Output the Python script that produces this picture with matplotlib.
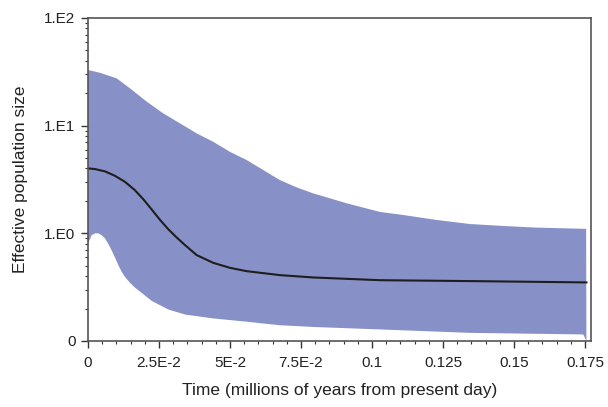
import numpy as np
import matplotlib.pyplot as plt
from matplotlib.ticker import FixedLocator, FixedFormatter, LogLocator, MultipleLocator, NullFormatter

plt.rcParams['font.family'] = ['Liberation Sans', 'DejaVu Sans']

# time in millions of years before present, effective population size
# upper 95% HPD
t_upper = [0.0, 0.0042, 0.0101, 0.0148, 0.0207, 0.0265, 0.0324, 0.0383, 0.0441, 0.05,
           0.0559, 0.0676, 0.0735, 0.0793, 0.0911, 0.1028, 0.111, 0.1228, 0.1345, 0.1462,
           0.158, 0.1754]
upper = [32.9, 31.0, 27.5, 22.2, 16.7, 13.0, 10.5, 8.47, 7.08, 5.71,
         4.79, 3.12, 2.67, 2.35, 1.90, 1.58, 1.48, 1.33, 1.22, 1.17,
         1.13, 1.10]
# median
t_median = [0.0, 0.0025, 0.006, 0.0095, 0.013, 0.0165, 0.0195, 0.0224, 0.0254, 0.0283,
            0.0312, 0.0342, 0.0383, 0.0441, 0.05, 0.0559, 0.0676, 0.0793, 0.1028, 0.1345,
            0.1755]
median = [4.01, 3.95, 3.76, 3.42, 3.01, 2.52, 2.07, 1.67, 1.33, 1.09,
          0.916, 0.776, 0.627, 0.532, 0.478, 0.445, 0.409, 0.389, 0.367, 0.360,
          0.350]
# lower 95% HPD
t_lower = [0.0, 0.0013, 0.0025, 0.0036, 0.0048, 0.006, 0.0072, 0.0083, 0.0095, 0.0107,
           0.0119, 0.013, 0.0148, 0.0165, 0.0195, 0.0224, 0.0283, 0.0342, 0.0441, 0.0559,
           0.0676, 0.0793, 0.1028, 0.1345, 0.1744, 0.1755]
lower = [0.80, 0.962, 1.0, 1.0, 0.962, 0.897, 0.794, 0.698, 0.597, 0.506,
         0.438, 0.394, 0.347, 0.314, 0.272, 0.236, 0.196, 0.176, 0.162, 0.151,
         0.140, 0.135, 0.128, 0.119, 0.115, 0.1]

xticks = [0, 0.025, 0.05, 0.075, 0.1, 0.125, 0.15, 0.175]
xticklabels = ["0", "2.5E-2", "5E-2", "7.5E-2", "0.1", "0.125", "0.15", "0.175"]
yticks = [0.1, 1, 10, 100]
yticklabels = ["0", "1.E0", "1.E1", "1.E2"]

fig = plt.figure(figsize=(6.08, 4.07), dpi=100)
ax = fig.add_axes([0.1447, 0.1622, 0.8268, 0.7936])

# HPD band as one polygon: upper edge forward, lower edge back
ax.fill(np.r_[t_upper, t_lower[::-1]], np.r_[upper, lower[::-1]],
        color='#8891c7', linewidth=0)
ax.plot(t_median, median, color='#1e1e1e', lw=1.5)

ax.set_yscale('log')
ax.set_xlim(0, 0.177)
ax.set_ylim(0.1, 100)

ax.xaxis.set_major_locator(FixedLocator(xticks))
ax.xaxis.set_major_formatter(FixedFormatter(xticklabels))
ax.xaxis.set_minor_locator(MultipleLocator(0.005))
ax.yaxis.set_major_locator(FixedLocator(yticks))
ax.yaxis.set_major_formatter(FixedFormatter(yticklabels))
ax.yaxis.set_minor_locator(LogLocator(base=10, subs=np.arange(2, 10)))
ax.yaxis.set_minor_formatter(NullFormatter())

ax.tick_params(axis='both', which='major', direction='out', length=5, width=1,
               labelsize=11, colors='#333333', labelcolor='#222222')
ax.tick_params(axis='both', which='minor', direction='out', length=2.5, width=0.8, colors='#333333')
ax.tick_params(axis='x', which='major', pad=6)
ax.tick_params(axis='y', which='major', pad=4)

for s in ax.spines.values():
	s.set_color('#555555')
	s.set_linewidth(1.2)

ax.set_xlabel("Time (millions of years from present day)", fontsize=12.5, color='#222222', labelpad=9)
ax.set_ylabel("Effective population size", fontsize=12.5, color='#222222', labelpad=12)

plt.savefig("out.png", dpi=100)
